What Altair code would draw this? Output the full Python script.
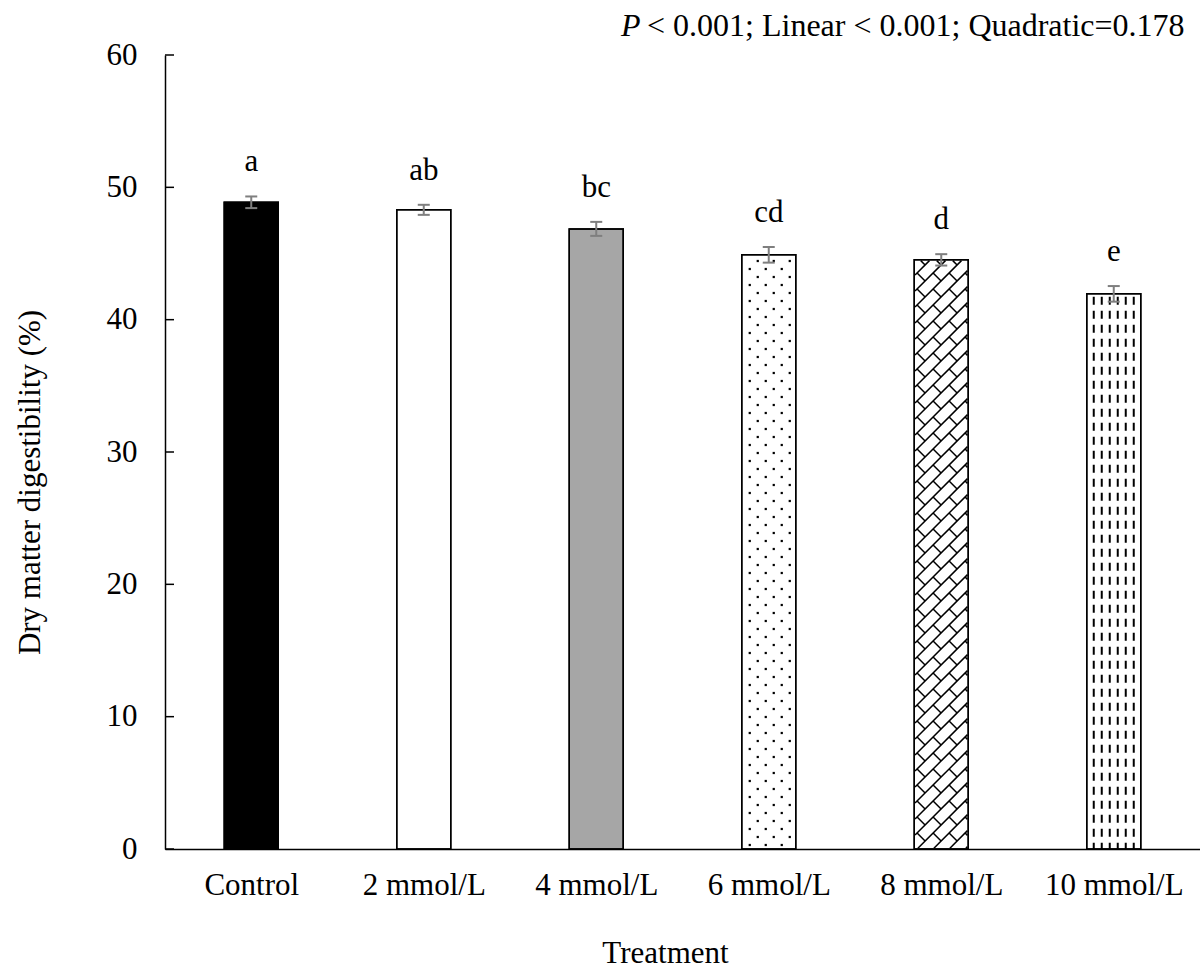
import altair as alt
import pandas as pd
import numpy as np

# ---- data ----
categories = ["Control", "2 mmol/L", "4 mmol/L", "6 mmol/L", "8 mmol/L", "10 mmol/L"]
means = [48.87, 48.3, 46.86, 44.9, 44.52, 41.95]
sems = [0.44, 0.38, 0.53, 0.59, 0.43, 0.59]
letters = ["a", "ab", "bc", "cd", "d", "e"]
fills = ["#000000", "#ffffff", "#a6a6a6", "#ffffff", "#ffffff", "#ffffff"]
y_ticks = [0, 10, 20, 30, 40, 50, 60]

FONT = "Liberation Serif"
FS = 31
W, H = 1035, 794
YMAX = 60
PX_X = W / len(categories)   # px per x unit
PX_Y = H / YMAX              # px per y unit
BAR_PX = 54
HALF = BAR_PX / 2 / PX_X

df = pd.DataFrame({
    "cat": categories, "mean": means, "sem": sems, "letter": letters, "fill": fills,
})
df["idx"] = range(len(categories))
df["c"] = df["idx"] + 0.5
df["x0"] = df["c"] - HALF
df["x1"] = df["c"] + HALF
df["lo"] = df["mean"] - df["sem"]
df["hi"] = df["mean"] + df["sem"]
df["zero"] = 0.0
df["cap0"] = df["c"] - 6 / PX_X
df["cap1"] = df["c"] + 6 / PX_X

xs = alt.Scale(domain=[0, len(categories)], nice=False, zero=False)
ys = alt.Scale(domain=[0, YMAX], nice=False)

label_expr = "[" + ",".join("'%s'" % c for c in categories) + "][floor(datum.value)]"

x_axis = alt.Axis(values=[i + 0.5 for i in range(len(categories))], labelExpr=label_expr,
                  title="Treatment", ticks=False, tickSize=0, grid=False, labelPadding=21,
                  titleX=500, titleY=104, titleBaseline="middle", titleAlign="center")
y_axis = alt.Axis(values=y_ticks, ticks=False, tickSize=0, grid=False, labelPadding=28,
                  title="Dry matter digestibility (%)", titleX=-135, titleY=H / 2 + 30,
                  titleBaseline="middle", titleAngle=-90, titleAlign="center")

base = alt.Chart(df)

bars = base.mark_rect(stroke="black", strokeWidth=1.5).encode(
    x=alt.X("x0:Q", scale=xs, axis=x_axis),
    x2="x1:Q",
    y=alt.Y("mean:Q", scale=ys, axis=y_axis),
    y2="zero:Q",
    fill=alt.Fill("fill:N", scale=None),
)

# ---- pattern fills (derived from bar geometry) ----
def to_data(i, px, py):
    return i + 0.5 + (px - BAR_PX / 2) / PX_X, py / PX_Y

# dotted (6 mmol/L)
i = 3
top_px = means[i] * PX_Y
dots = []
row = 0
py = 4
while py < top_px - 3:
    offs = [8, 24, 40] if row % 2 == 0 else [16, 32, 48]
    for o in offs:
        dots.append(to_data(i, o, py))
    py += 8
    row += 1
dots_df = pd.DataFrame(dots, columns=["x", "y"])

# diagonal brick (8 mmol/L)
def clip(x0, y0, x1, y1, xmin, xmax, ymin, ymax):
    dx, dy = x1 - x0, y1 - y0
    p = [-dx, dx, -dy, dy]
    q = [x0 - xmin, xmax - x0, y0 - ymin, ymax - y0]
    u1, u2 = 0.0, 1.0
    for pi, qi in zip(p, q):
        if pi == 0:
            if qi < 0:
                return None
        else:
            t = qi / pi
            if pi < 0:
                u1 = max(u1, t)
            else:
                u2 = min(u2, t)
    if u1 > u2:
        return None
    return (x0 + u1 * dx, y0 + u1 * dy, x0 + u2 * dx, y0 + u2 * dy)

i = 4
top_px = means[i] * PX_Y
S = 16
segs = []
for c in np.arange(-top_px - S * 2, BAR_PX + S, S):
    # long "/" line: y = x - c
    r = clip(-1000, -1000 - c, 1000, 1000 - c, 0.8, BAR_PX - 0.8, 0.8, top_px - 0.8)
    if r:
        segs.append(r)
    # short "\" bricks to the next line
    for yy in np.arange(-S * 2, top_px + S, S):
        x0 = yy + c
        r = clip(x0, yy, x0 + S / 2, yy - S / 2, 0.8, BAR_PX - 0.8, 0.8, top_px - 0.8)
        if r:
            segs.append(r)
seg_rows = []
for (a, b, cc, d) in segs:
    xa, ya = to_data(i, a, b)
    xb, yb = to_data(i, cc, d)
    seg_rows.append({"xa": xa, "ya": ya, "xb": xb, "yb": yb})
brick_df = pd.DataFrame(seg_rows)

# dashed vertical (10 mmol/L)
i = 5
dash_df = pd.DataFrame([
    {"x": to_data(i, o, 0)[0], "y": means[i] - 3 / PX_Y, "y0": 0.0}
    for o in [7, 15, 23, 31, 39, 47]
])

dots_layer = alt.Chart(dots_df).mark_square(size=5, color="black", opacity=1).encode(
    x=alt.X("x:Q", scale=xs), y=alt.Y("y:Q", scale=ys))
brick_layer = alt.Chart(brick_df).mark_rule(color="black", strokeWidth=1.5).encode(
    x=alt.X("xa:Q", scale=xs), y=alt.Y("ya:Q", scale=ys), x2="xb:Q", y2="yb:Q")
dash_layer = alt.Chart(dash_df).mark_rule(color="black", strokeWidth=2, strokeDash=[8, 6]).encode(
    x=alt.X("x:Q", scale=xs), y=alt.Y("y:Q", scale=ys), y2="y0:Q")

outline = base.mark_rect(fill=None, stroke="black", strokeWidth=1.5).encode(
    x=alt.X("x0:Q", scale=xs), x2="x1:Q", y=alt.Y("mean:Q", scale=ys), y2="zero:Q")

err = base.mark_rule(color="#7f7f7f", strokeWidth=2).encode(
    x=alt.X("c:Q", scale=xs), y=alt.Y("lo:Q", scale=ys), y2="hi:Q")
cap_hi = base.mark_rule(color="#7f7f7f", strokeWidth=2).encode(
    x=alt.X("cap0:Q", scale=xs), x2="cap1:Q", y=alt.Y("hi:Q", scale=ys))
cap_lo = base.mark_rule(color="#7f7f7f", strokeWidth=2).encode(
    x=alt.X("cap0:Q", scale=xs), x2="cap1:Q", y=alt.Y("lo:Q", scale=ys))

letters_layer = base.mark_text(font=FONT, fontSize=FS, color="black", dy=-25,
                               baseline="alphabetic", align="center").encode(
    x=alt.X("c:Q", scale=xs), y=alt.Y("hi:Q", scale=ys), text="letter:N")

ytick_df = pd.DataFrame({"v": y_ticks})
yticks_layer = alt.Chart(ytick_df).mark_rule(color="black", strokeWidth=1.5).encode(
    y=alt.Y("v:Q", scale=ys), x=alt.value(0), x2=alt.value(9))

ann_df = pd.DataFrame({"p": ["P"], "rest": ["< 0.001; Linear < 0.001; Quadratic=0.178"]})
ann_p = alt.Chart(ann_df).mark_text(font=FONT, fontSize=32, fontStyle="italic", color="black",
                                    align="left", baseline="alphabetic").encode(
    x=alt.value(621 - 165), y=alt.value(-19), text="p:N")
ann_rest = alt.Chart(ann_df).mark_text(font=FONT, fontSize=32, color="black",
                                       align="left", baseline="alphabetic").encode(
    x=alt.value(647 - 165), y=alt.value(-19), text="rest:N")

chart = alt.layer(
    bars, dots_layer, brick_layer, dash_layer, outline, err, cap_hi, cap_lo,
    letters_layer, yticks_layer, ann_p, ann_rest,
).properties(
    width=W, height=H,
    autosize=alt.AutoSizeParams(type="none"),
    padding={"left": 165, "top": 55, "right": 0, "bottom": 123},
).configure(background="white").configure_view(stroke=None).configure_axis(
    domainColor="black", domainWidth=1.5, grid=False, ticks=False, tickSize=0,
    labelFont=FONT, labelFontSize=FS, labelColor="black",
    titleFont=FONT, titleFontSize=FS, titleColor="black", titleFontWeight="normal",
)

chart.save("out.html", embed_options={"renderer": "svg", "actions": False})
